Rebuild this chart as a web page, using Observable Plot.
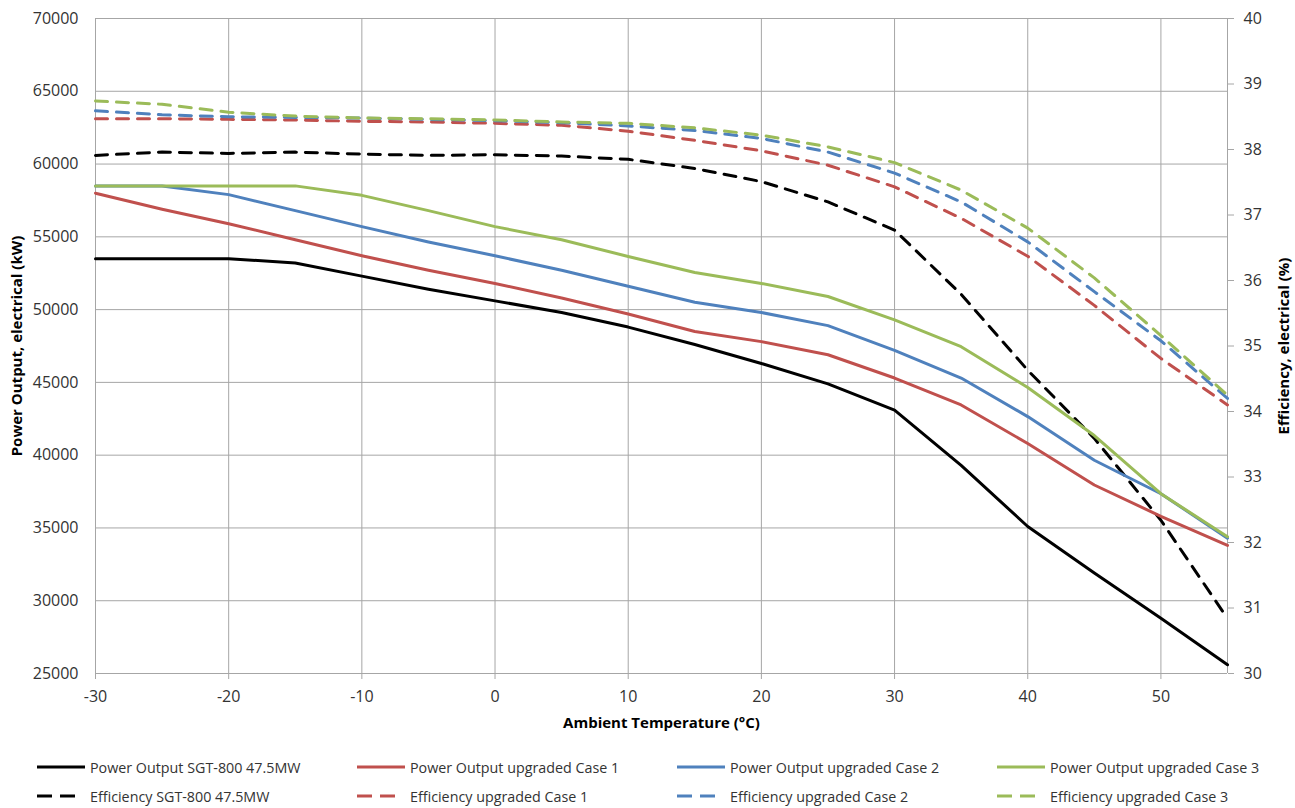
<!DOCTYPE html>
<html>
<head>
<meta charset="utf-8">
<script src="https://cdn.jsdelivr.net/npm/d3@7"></script>
<script src="https://cdn.jsdelivr.net/npm/@observablehq/plot@0.6"></script>
<style>
  html, body { margin: 0; padding: 0; background: #fff; }
  #wrap { position: relative; width: 1295px; height: 808px; font-family: "Open Sans", sans-serif; }
  #legend { position: absolute; left: 0; top: 752px; width: 1295px; height: 56px; }
  .item { position: absolute; display: flex; align-items: center; font-size: 14.3px; color: #333; white-space: nowrap; }
  .item svg { margin-right: 5px; }
</style>
</head>
<body>
<div id="wrap"><div id="chart"></div><div id="legend"></div></div>
<script>
// ---- data ----
const temps = [-30,-25,-20,-15,-10,-5,0,5,10,15,20,25,30,35,40,45,50,55];

const powerBase  = [53500,53500,53500,53200,52300,51400,50600,49800,48800,47600,46300,44900,43100,39300,35100,31900,28800,25600];
const powerCase1 = [58000,56900,55900,54800,53700,52700,51800,50800,49700,48500,47800,46900,45300,43450,40800,37950,35800,33800];
const powerCase2 = [58500,58500,57900,56800,55700,54650,53700,52700,51600,50500,49800,48900,47200,45300,42650,39650,37350,34300];
const powerCase3 = [58500,58500,58500,58500,57850,56800,55700,54800,53650,52550,51800,50900,49300,47450,44650,41350,37350,34400];

const effBase  = [37.91,37.96,37.94,37.96,37.93,37.91,37.92,37.90,37.85,37.71,37.51,37.20,36.77,35.79,34.63,33.59,32.34,30.84];
const effCase1 = [38.47,38.47,38.46,38.45,38.43,38.42,38.40,38.37,38.28,38.14,37.98,37.76,37.43,36.95,36.37,35.62,34.81,34.10];
const effCase2 = [38.59,38.53,38.50,38.49,38.48,38.46,38.44,38.41,38.36,38.29,38.17,37.96,37.64,37.20,36.59,35.83,35.08,34.20];
const effCase3 = [38.74,38.69,38.57,38.51,38.48,38.47,38.45,38.42,38.40,38.33,38.22,38.04,37.80,37.38,36.80,36.04,35.16,34.25];

const xTicks = [-30,-20,-10,0,10,20,30,40,50];
const powerTicks = [25000,30000,35000,40000,45000,50000,55000,60000,65000,70000];
const effTicks = [30,31,32,33,34,35,36,37,38,39,40];

const seriesNames = [
  "Power Output SGT-800 47.5MW", "Power Output upgraded Case 1", "Power Output upgraded Case 2", "Power Output upgraded Case 3",
  "Efficiency SGT-800 47.5MW", "Efficiency upgraded Case 1", "Efficiency upgraded Case 2", "Efficiency upgraded Case 3"
];
const seriesColors = ["#000000","#C0504D","#4F81BD","#9BBB59"];

// ---- secondary axis mapping (efficiency -> power scale) ----
const pLo = 25000, pHi = 70000, eLo = 30, eHi = 40;
const toP = e => pLo + (e - eLo) * (pHi - pLo) / (eHi - eLo);
const fromP = p => eLo + (p - pLo) * (eHi - eLo) / (pHi - pLo);

const powerSeries = [powerBase, powerCase1, powerCase2, powerCase3];
const effSeries = [effBase, effCase1, effCase2, effCase3];

const DASH = "12,9";
const lineMarks = [];
effSeries.forEach((vals, i) => {
  const data = temps.map((t, k) => ({t, v: toP(vals[k])}));
  lineMarks.push(Plot.line(data, {x: "t", y: "v", stroke: seriesColors[i], strokeWidth: 3, strokeDasharray: DASH}));
});
powerSeries.forEach((vals, i) => {
  const data = temps.map((t, k) => ({t, v: vals[k]}));
  lineMarks.push(Plot.line(data, {x: "t", y: "v", stroke: seriesColors[i], strokeWidth: 3}));
});

const gridColor = "#a6a6a6";
const chart = Plot.plot({
  width: 1295,
  height: 748,
  marginLeft: 95,
  marginRight: 68,
  marginTop: 18,
  marginBottom: 75,
  x: {domain: [-30, 55]},
  y: {domain: [pLo, pHi]},
  style: {fontFamily: "Open Sans, sans-serif", fontSize: "16px", color: "#333", background: "#fff", overflow: "visible"},
  marks: [
    Plot.gridY(powerTicks, {stroke: gridColor, strokeOpacity: 1, strokeWidth: 1}),
    Plot.gridX(xTicks, {stroke: gridColor, strokeOpacity: 1, strokeWidth: 1}),
    Plot.ruleX([55], {stroke: gridColor, strokeWidth: 1}),
    Plot.axisX(xTicks, {anchor: "bottom", tickSize: 6, tickPadding: 11, stroke: gridColor, tickFormat: d => String(d),
      label: "Ambient Temperature (°C)", labelAnchor: "center", labelArrow: "none", labelOffset: 54}),
    Plot.axisY(powerTicks, {anchor: "left", tickSize: 0, tickPadding: 17, tickFormat: d => String(d),
      label: "Power Output, electrical (kW)", labelAnchor: "center", labelArrow: "none", labelOffset: 84}),
    Plot.axisY(effTicks.map(toP), {anchor: "right", tickSize: 6, tickPadding: 10, stroke: gridColor, tickFormat: p => String(Math.round(fromP(p))),
      label: "Efficiency, electrical (%)", labelAnchor: "center", labelArrow: "none", labelOffset: 61}),
    ...lineMarks
  ]
});
document.getElementById("chart").appendChild(chart);
// bold axis titles
chart.querySelectorAll("g[aria-label='x-axis label'] text, g[aria-label='y-axis label'] text").forEach(t => {
  t.setAttribute("font-weight", "bold"); t.setAttribute("font-size", "15px"); t.setAttribute("fill", "#000");
});

// ---- legend ----
const legend = document.getElementById("legend");
const colX = [37, 357, 677, 997];
const rowY = [15, 44];
seriesNames.forEach((name, i) => {
  const col = i % 4, row = Math.floor(i / 4);
  const div = document.createElement("div");
  div.className = "item";
  div.style.left = colX[col] + "px";
  div.style.top = (rowY[row] - 10) + "px";
  div.style.height = "20px";
  const ln = row === 1
    ? `<line x1="0" y1="10" x2="38" y2="10" stroke="${seriesColors[col]}" stroke-width="3" stroke-dasharray="15,8"/>`
    : `<line x1="0" y1="10" x2="48" y2="10" stroke="${seriesColors[col]}" stroke-width="3"/>`;
  div.innerHTML = `<svg width="48" height="20">${ln}</svg><span>${name}</span>`;
  legend.appendChild(div);
});
</script>
</body>
</html>
